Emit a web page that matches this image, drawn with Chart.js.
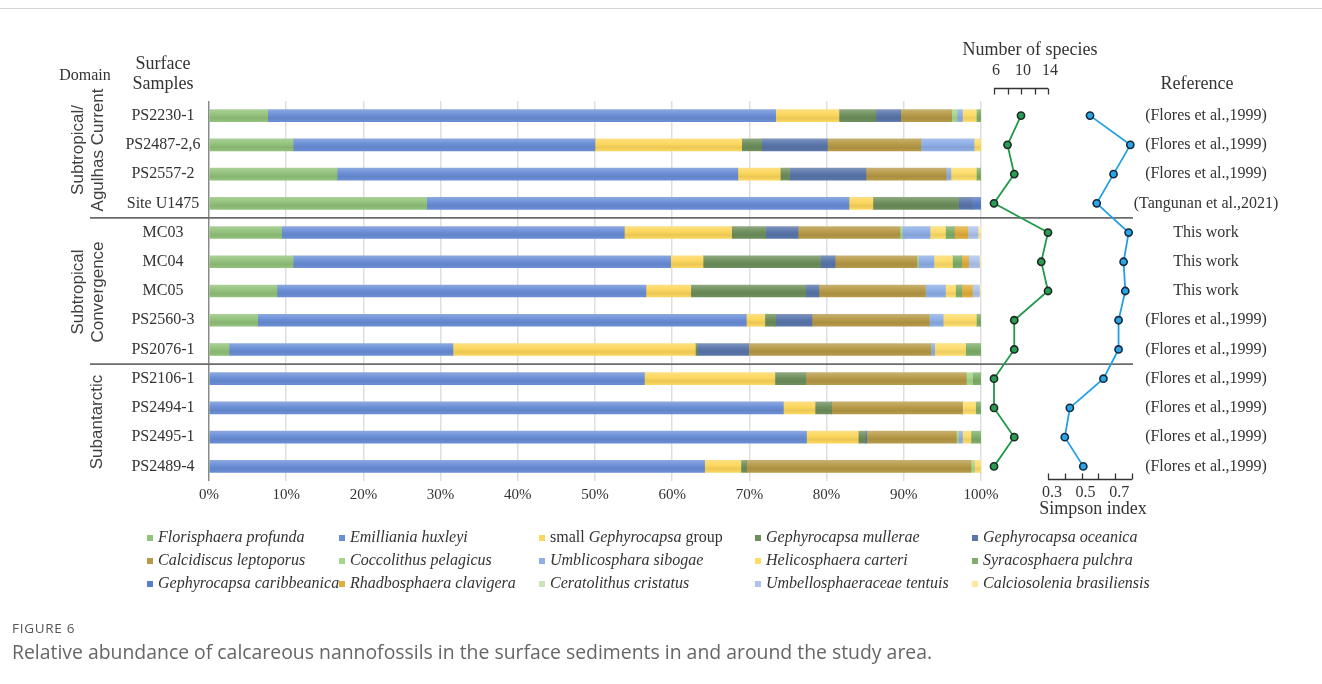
<!DOCTYPE html>
<html>
<head>
<meta charset="utf-8">
<title>Relative abundance of calcareous nannofossils</title>
<script src="https://cdn.jsdelivr.net/npm/chart.js@4.4.1/dist/chart.umd.min.js"></script>
<style>
  html, body { margin: 0; padding: 0; background: #fff; }
  #fig { position: relative; width: 1322px; height: 684px; overflow: hidden; color: #333;
         font-family: "Liberation Serif", "Times New Roman", serif; }
  #fig canvas { position: absolute; left: 0; top: 0; }
  .topline { position: absolute; left: 0; top: 8px; width: 1322px; height: 1px; background: #d4d4d4; }
  .lbl { position: absolute; white-space: nowrap; transform: translate(-50%, -50%); text-align: center; }
  .dom { position: absolute; white-space: nowrap; text-align: center; line-height: 17px;
         font: 17px "Liberation Sans", Arial, sans-serif; color: #404040;
         transform: translate(-50%, -50%) rotate(-90deg); }
  .leg { position: absolute; white-space: nowrap; font-size: 16px; color: #333; transform: translateY(-50%); }
  .leg i { font-style: italic; }
  .sw { position: absolute; width: 6px; height: 6px; transform: translateY(-50%); }
  .figno { position: absolute; left: 12px; top: 619px; font: 13.5px "Open Sans", sans-serif; letter-spacing: 0.7px; color: #555; }
  .cap { position: absolute; left: 12px; top: 638px; font: 19.4px "Open Sans", sans-serif; color: #666; white-space: nowrap; }
</style>
</head>
<body>
<div id="fig">
  <div class="topline"></div>
  <canvas id="bars" width="1322" height="684"></canvas>
  <canvas id="species" width="1322" height="684"></canvas>
  <canvas id="simpson" width="1322" height="684"></canvas>

  <div class="lbl" style="left:85px;top:75px;font-size:16px;">Domain</div>
  <div class="lbl" style="left:163px;top:73px;font-size:18px;line-height:20px;">Surface<br>Samples</div>
  <div class="lbl" style="left:1030px;top:49px;font-size:18px;">Number of species</div>
  <div class="lbl" style="left:1197px;top:83px;font-size:18px;">Reference</div>
  <div class="lbl" style="left:1093px;top:508px;font-size:18px;">Simpson index</div>

  <div class="dom" style="left:88px;top:150px;">Subtropical/<br>Agulhas Current</div>
  <div class="dom" style="left:88px;top:292px;">Subtropical<br>Convergence</div>
  <div class="dom" style="left:97px;top:422px;">Subantarctic</div>

  <div id="legend"></div>

  <div class="figno">FIGURE 6</div>
  <div class="cap">Relative abundance of calcareous nannofossils in the surface sediments in and around the study area.</div>
</div>

<script>
// ---- data -------------------------------------------------------------
const samples = ['PS2230-1', 'PS2487-2,6', 'PS2557-2', 'Site U1475', 'MC03', 'MC04', 'MC05',
                 'PS2560-3', 'PS2076-1', 'PS2106-1', 'PS2494-1', 'PS2495-1', 'PS2489-4'];

const references = ['(Flores et al.,1999)', '(Flores et al.,1999)', '(Flores et al.,1999)',
                    '(Tangunan et al.,2021)', 'This work', 'This work', 'This work',
                    '(Flores et al.,1999)', '(Flores et al.,1999)', '(Flores et al.,1999)',
                    '(Flores et al.,1999)', '(Flores et al.,1999)', '(Flores et al.,1999)'];

// relative abundance (%) per sample
const florisphaeraProfunda   = [7.6, 10.9, 16.6, 28.2, 9.4, 10.9, 8.8, 6.3, 2.6, 0, 0, 0, 0];
const emillianiaHuxleyi      = [65.8, 39.1, 51.9, 54.7, 44.4, 48.9, 47.8, 63.3, 29.0, 56.4, 74.4, 77.4, 64.2];
const smallGephyrocapsa      = [8.2, 19.0, 5.5, 3.1, 13.9, 4.2, 5.8, 2.4, 31.4, 16.9, 4.1, 6.7, 4.7];
const gephyrocapsaMullerae   = [4.8, 2.6, 1.2, 11.1, 4.4, 15.2, 14.9, 1.4, 0.3, 4.0, 2.1, 0.9, 0.7];
const gephyrocapsaOceanica   = [3.2, 8.5, 9.9, 1.8, 4.2, 1.9, 1.7, 4.7, 6.6, 0, 0, 0.2, 0];
const calcidiscusLeptoporus  = [6.6, 12.1, 10.4, 0, 13.2, 10.6, 13.8, 15.2, 23.6, 20.8, 17.0, 11.6, 29.1];
const coccolithusPelagicus   = [0.7, 0, 0, 0, 0.3, 0.2, 0, 0, 0, 0.8, 0, 0.3, 0.4];
const umblicospharaSibogae   = [0.7, 6.9, 0.6, 0, 3.6, 2.0, 2.6, 1.8, 0.5, 0, 0, 0.5, 0];
const helicosphaeraCarteri   = [1.8, 0.9, 3.3, 0, 2.0, 2.4, 1.3, 4.3, 4.0, 0, 1.7, 1.1, 0.9];
const syracosphaeraPulchra   = [0.6, 0, 0.6, 0, 1.1, 1.2, 0.8, 0.6, 2.0, 1.1, 0.7, 1.3, 0];
const gephyrocapsaCaribbeanica = [0, 0, 0, 1.1, 0, 0, 0, 0, 0, 0, 0, 0, 0];
const rhadbosphaeraClavigera = [0, 0, 0, 0, 1.8, 0.9, 1.4, 0, 0, 0, 0, 0, 0];
const ceratolithusCristatus  = [0, 0, 0, 0, 0, 0, 0, 0, 0, 0, 0, 0, 0];
const umbellosphaeraceaeTentuis = [0, 0, 0, 0, 1.3, 1.4, 0.9, 0, 0, 0, 0, 0, 0];
const calciosoleniaBrasiliensis = [0, 0, 0, 0, 0.4, 0.2, 0.2, 0, 0, 0, 0, 0, 0];

const taxonNames = ['Florisphaera profunda', 'Emilliania huxleyi', 'small Gephyrocapsa group',
  'Gephyrocapsa mullerae', 'Gephyrocapsa oceanica', 'Calcidiscus leptoporus', 'Coccolithus pelagicus',
  'Umblicosphara sibogae', 'Helicosphaera carteri', 'Syracosphaera pulchra', 'Gephyrocapsa caribbeanica',
  'Rhadbosphaera clavigera', 'Ceratolithus cristatus', 'Umbellosphaeraceae tentuis', 'Calciosolenia brasiliensis'];

const taxonValues = [florisphaeraProfunda, emillianiaHuxleyi, smallGephyrocapsa, gephyrocapsaMullerae,
  gephyrocapsaOceanica, calcidiscusLeptoporus, coccolithusPelagicus, umblicospharaSibogae,
  helicosphaeraCarteri, syracosphaeraPulchra, gephyrocapsaCaribbeanica, rhadbosphaeraClavigera,
  ceratolithusCristatus, umbellosphaeraceaeTentuis, calciosoleniaBrasiliensis];

const speciesCount = [10, 8, 9, 6, 14, 13, 14, 9, 9, 6, 6, 9, 6];
const simpsonIndex = [0.55, 0.79, 0.69, 0.59, 0.78, 0.75, 0.76, 0.72, 0.72, 0.63, 0.43, 0.40, 0.51];

const speciesTickLabels = [6, 10, 14];
const simpsonTickLabels = [0.3, 0.5, 0.7];

// domains: last sample index of each block except the final one
const domainBlockEnds = [3, 8];

// ---- styles -----------------------------------------------------------
const taxonColors = ['#92c27b', '#6a8ed6', '#fcd65c', '#6e8f5c', '#5a76ab', '#b79a48', '#a6d68c',
  '#8eaee6', '#fddc6a', '#7fae6a', '#5b7ec7', '#e0ae3e', '#c8e6b5', '#aec3ec', '#ffe7a0'];

const SERIF = '"Liberation Serif", "Times New Roman", serif';
const TEXT = '#333333';

function mix(hex, other, t) {
  const a = parseInt(hex.slice(1), 16), b = parseInt(other.slice(1), 16);
  const ch = (v, s) => (v >> s) & 255;
  const c = [16, 8, 0].map(s => Math.round(ch(a, s) * (1 - t) + ch(b, s) * t));
  return 'rgb(' + c.join(',') + ')';
}

// soft horizontal shading along each bar
function barFill(base) {
  return (ctx) => {
    const chart = ctx.chart;
    const y = chart.scales && chart.scales.y;
    if (!chart.chartArea || !y || ctx.dataIndex === undefined) return base;
    const yc = y.getPixelForValue(ctx.dataIndex);
    const g = chart.ctx.createLinearGradient(0, yc - 6, 0, yc + 6);
    g.addColorStop(0, mix(base, '#ffffff', 0.22));
    g.addColorStop(0.45, base);
    g.addColorStop(0.7, mix(base, '#000000', 0.07));
    g.addColorStop(1, base);
    return g;
  };
}

// ---- stacked bars ------------------------------------------------------
const rowDecor = {
  id: 'rowDecor',
  afterDraw(chart) {
    const { ctx } = chart;
    const y = chart.scales.y;
    ctx.save();
    ctx.fillStyle = TEXT;
    ctx.textBaseline = 'middle';
    ctx.textAlign = 'center';
    ctx.font = '16px ' + SERIF;
    samples.forEach((s, i) => ctx.fillText(s, 163, y.getPixelForValue(i)));
    references.forEach((r, i) => ctx.fillText(r, 1206, y.getPixelForValue(i)));
    // domain separators
    ctx.strokeStyle = '#6b6b6b';
    ctx.lineWidth = 1.6;
    domainBlockEnds.forEach(i => {
      const yy = (y.getPixelForValue(i) + y.getPixelForValue(i + 1)) / 2;
      ctx.beginPath();
      ctx.moveTo(90, yy);
      ctx.lineTo(1133, yy);
      ctx.stroke();
    });
    ctx.restore();
  }
};

new Chart(document.getElementById('bars'), {
  type: 'bar',
  data: {
    labels: samples,
    datasets: taxonValues.map((vals, k) => ({
      label: taxonNames[k],
      data: vals,
      backgroundColor: barFill(taxonColors[k]),
      borderWidth: 0,
      barThickness: 12
    }))
  },
  options: {
    indexAxis: 'y',
    responsive: false,
    animation: false,
    devicePixelRatio: 1,
    layout: { padding: { left: 209, right: 341, top: 101, bottom: 173 } },
    plugins: { legend: { display: false }, tooltip: { enabled: false } },
    scales: {
      x: {
        stacked: true, min: 0, max: 100, z: 1,
        afterFit(scale) { scale.height = 30; },
        border: { display: false },
        grid: {
          drawTicks: false, lineWidth: 1.5,
          color: (c) => (c.tick && c.tick.value === 0) ? '#8a8a8a' : 'rgba(0,0,0,0.13)'
        },
        ticks: { stepSize: 10, padding: 5, color: TEXT, font: { family: SERIF, size: 15 },
                 callback: (v) => v + '%' }
      },
      y: { stacked: true, display: false }
    }
  },
  plugins: [rowDecor]
});

// ---- profile lines -----------------------------------------------------
function bracketAxis(id, yLine, dir, tickValues, labelValues, labelY, labelShift) {
  return {
    id,
    afterDraw(chart) {
      const { ctx } = chart;
      const x = chart.scales.x;
      ctx.save();
      ctx.strokeStyle = '#333';
      ctx.lineWidth = 1.3;
      ctx.beginPath();
      ctx.moveTo(x.getPixelForValue(tickValues[0]), yLine);
      ctx.lineTo(x.getPixelForValue(tickValues[tickValues.length - 1]), yLine);
      tickValues.forEach(v => {
        const px = Math.round(x.getPixelForValue(v)) + 0.5;
        ctx.moveTo(px, yLine);
        ctx.lineTo(px, yLine + dir * 6);
      });
      ctx.stroke();
      ctx.fillStyle = TEXT;
      ctx.font = '16px ' + SERIF;
      ctx.textAlign = 'center';
      ctx.textBaseline = 'middle';
      labelValues.forEach(v => ctx.fillText(String(v), x.getPixelForValue(v) + labelShift, labelY));
      ctx.restore();
    }
  };
}

function profileChart(canvasId, values, xMin, xMax, left, right, line, dot, edge, axisPlugin) {
  return new Chart(document.getElementById(canvasId), {
    type: 'line',
    data: {
      labels: samples,
      datasets: [{
        data: values,
        borderColor: line,
        borderWidth: 1.8,
        pointRadius: 3.6,
        pointBorderWidth: 1.6,
        pointBackgroundColor: dot,
        pointBorderColor: edge,
        tension: 0,
        clip: false
      }]
    },
    options: {
      indexAxis: 'y',
      responsive: false,
      animation: false,
      devicePixelRatio: 1,
      layout: { padding: { left, right, top: 101, bottom: 203 } },
      plugins: { legend: { display: false }, tooltip: { enabled: false } },
      scales: {
        x: { type: 'linear', min: xMin, max: xMax, display: false },
        y: { type: 'category', offset: true, display: false }
      }
    },
    plugins: [axisPlugin]
  });
}

profileChart('species', speciesCount, 6, 14, 994, 1322 - 1048, '#1f9a48', '#2a9d55', '#1c2b22',
  bracketAxis('speciesAxis', 88.5, 1, [6, 8, 10, 12, 14], speciesTickLabels, 71, 2));

profileChart('simpson', simpsonIndex, 0.3, 0.8, 1048, 1322 - 1132, '#22a0e6', '#2aa6e6', '#13293d',
  bracketAxis('simpsonAxis', 479.5, -1, [0.3, 0.4, 0.5, 0.6, 0.7, 0.8], simpsonTickLabels, 493, 4));

// ---- legend ------------------------------------------------------------
const legendCols = [147, 339, 539, 755, 972];
const legendRows = [537, 560, 583];
const legendEl = document.getElementById('legend');
taxonNames.forEach((name, k) => {
  const col = k % 5, row = Math.floor(k / 5);
  const sw = document.createElement('div');
  sw.className = 'sw';
  sw.style.left = legendCols[col] + 'px';
  sw.style.top = (legendRows[row] + 1) + 'px';
  sw.style.background = taxonColors[k];
  legendEl.appendChild(sw);
  const tx = document.createElement('div');
  tx.className = 'leg';
  tx.style.left = (legendCols[col] + 11) + 'px';
  tx.style.top = legendRows[row] + 'px';
  tx.innerHTML = name.split(' ')
    .map(w => (w === 'small' || w === 'group') ? w : '<i>' + w + '</i>')
    .join(' ');
  legendEl.appendChild(tx);
});
</script>
</body>
</html>
